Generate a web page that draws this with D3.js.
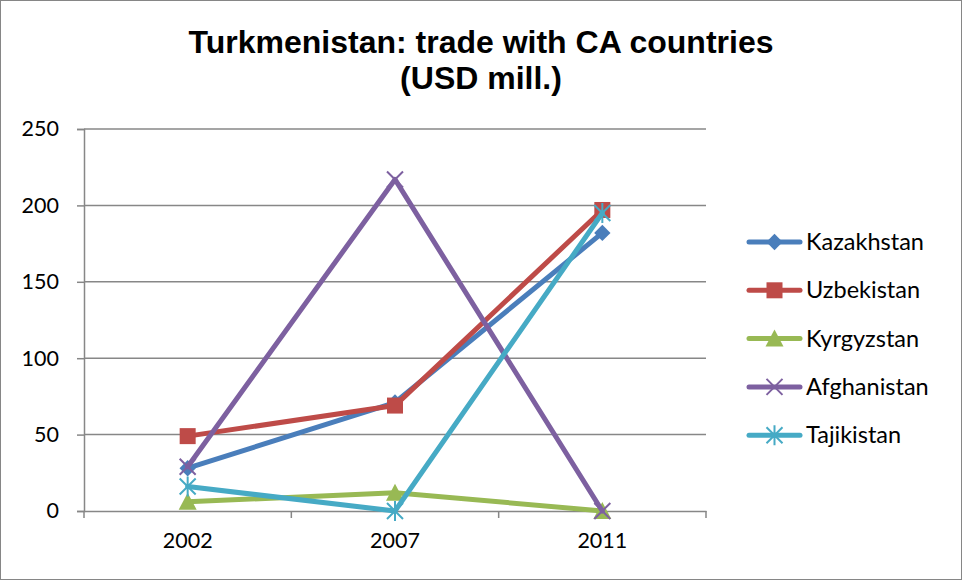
<!DOCTYPE html>
<html>
<head>
<meta charset="utf-8">
<script src="https://cdn.jsdelivr.net/npm/d3@7"></script>
<style>
  body { margin: 0; background: #fff; }
  svg { display: block; }
</style>
</head>
<body>
<div id="chart"></div>
<script>
const years = ['2002', '2007', '2011']
const seriesNames = ['Kazakhstan', 'Uzbekistan', 'Kyrgyzstan', 'Afghanistan', 'Tajikistan']
const kazakhstan = [28, 71, 182]
const uzbekistan = [49, 69, 197]
const kyrgyzstan = [6, 12, 0]
const afghanistan = [29, 217, 0]
const tajikistan = [16, 0, 195]
const yTicks = [0, 50, 100, 150, 200, 250]

const colors = ['#4a7ebb', '#be4b48', '#98b954', '#7d60a0', '#46aac5']
const markers = ['diamond', 'square', 'triangle', 'x', 'star']
const values = [kazakhstan, uzbekistan, kyrgyzstan, afghanistan, tajikistan]

const width = 962, height = 580
const margin = { top: 129, right: 256, bottom: 69, left: 84 }

const svg = d3.select('#chart').append('svg')
  .attr('width', width)
  .attr('height', height)

svg.append('rect')
  .attr('x', 0.5).attr('y', 0.5)
  .attr('width', width - 1).attr('height', height - 1)
  .attr('fill', '#fff')
  .attr('stroke', '#868686')

const x = d3.scaleBand()
  .domain(years)
  .range([margin.left, width - margin.right])

const y = d3.scaleLinear()
  .domain([0, 250])
  .range([height - margin.bottom, margin.top])

// title
svg.append('text')
  .attr('x', 481).attr('text-anchor', 'middle')
  .style('font-family', 'Liberation Sans, Arial, sans-serif')
  .style('font-weight', 'bold')
  .style('font-size', '32px')
  .selectAll('tspan')
  .data(['Turkmenistan: trade with CA countries', '(USD mill.)'])
  .join('tspan')
  .attr('x', 481)
  .attr('y', (d, i) => 53 + i * 36)
  .text(d => d)

// gridlines
svg.append('g')
  .selectAll('line')
  .data(yTicks.slice(1))
  .join('line')
  .attr('x1', margin.left).attr('x2', width - margin.right)
  .attr('y1', d => y(d)).attr('y2', d => y(d))
  .attr('stroke', '#878787')
  .attr('stroke-width', 1.5)

// y axis
const yAxis = svg.append('g')
  .attr('transform', `translate(${margin.left},0)`)
  .call(d3.axisLeft(y).tickValues(yTicks).tickSize(7).tickPadding(18))
yAxis.select('.domain').attr('stroke', '#878787').attr('stroke-width', 1.5)
yAxis.selectAll('.tick line').attr('stroke', '#878787').attr('stroke-width', 1.5)
yAxis.selectAll('text')
  .style('font-family', 'Lato, Carlito, sans-serif')
  .style('font-size', '21.5px')
  .attr('fill', '#000')

// x axis
const xAxis = svg.append('g')
  .attr('transform', `translate(0,${y(0)})`)
  .call(d3.axisBottom(x).tickSize(0).tickPadding(22))
xAxis.select('.domain').attr('stroke', '#878787').attr('stroke-width', 1.5)
xAxis.selectAll('text')
  .style('font-family', 'Lato, Carlito, sans-serif')
  .style('font-size', '21.5px')
  .attr('fill', '#000')
xAxis.selectAll('.sep')
  .data(d3.range(years.length + 1))
  .join('line')
  .attr('class', 'sep')
  .attr('x1', i => margin.left + i * x.step())
  .attr('x2', i => margin.left + i * x.step())
  .attr('y1', 0).attr('y2', 7)
  .attr('stroke', '#878787')
  .attr('stroke-width', 1.5)

function drawMarker(g, type, color) {
  if (type === 'diamond') {
    g.append('path')
      .attr('d', d3.symbol(d3.symbolDiamond2, 170)())
      .attr('fill', color)
  } else if (type === 'square') {
    g.append('rect')
      .attr('x', -8).attr('y', -8).attr('width', 16).attr('height', 16)
      .attr('fill', color)
  } else if (type === 'triangle') {
    g.append('path')
      .attr('d', 'M0,-9L9,8L-9,8Z')
      .attr('fill', color)
  } else if (type === 'x') {
    g.append('path')
      .attr('d', 'M-8,-8L8,8M8,-8L-8,8')
      .attr('stroke', color).attr('stroke-width', 2)
  } else {
    g.append('path')
      .attr('d', 'M-8,-8L8,8M8,-8L-8,8M0,-10V10')
      .attr('stroke', color).attr('stroke-width', 2)
  }
}

const line = d3.line()
  .x((d, i) => x(years[i]) + x.bandwidth() / 2)
  .y(d => y(d))

seriesNames.forEach((name, s) => {
  const g = svg.append('g').attr('class', 'series')
  g.append('path')
    .datum(values[s])
    .attr('d', line)
    .attr('fill', 'none')
    .attr('stroke', colors[s])
    .attr('stroke-width', 5)
    .attr('stroke-linejoin', 'round')
    .attr('stroke-linecap', 'round')
  values[s].forEach((v, i) => {
    const m = g.append('g')
      .attr('transform', `translate(${x(years[i]) + x.bandwidth() / 2},${y(v)})`)
    drawMarker(m, markers[s], colors[s])
  })
})

// legend
const legend = svg.append('g')
seriesNames.forEach((name, s) => {
  const ly = 242 + s * 48.3
  const lg = legend.append('g')
  lg.append('line')
    .attr('x1', 749).attr('x2', 800)
    .attr('y1', ly).attr('y2', ly)
    .attr('stroke', colors[s])
    .attr('stroke-width', 5)
    .attr('stroke-linecap', 'round')
  const m = lg.append('g').attr('transform', `translate(774.5,${ly})`)
  drawMarker(m, markers[s], colors[s])
  lg.append('text')
    .attr('x', 806).attr('y', ly + 8)
    .style('font-family', 'Lato, Carlito, sans-serif')
    .style('font-size', '23.5px')
    .text(name)
})
</script>
</body>
</html>
